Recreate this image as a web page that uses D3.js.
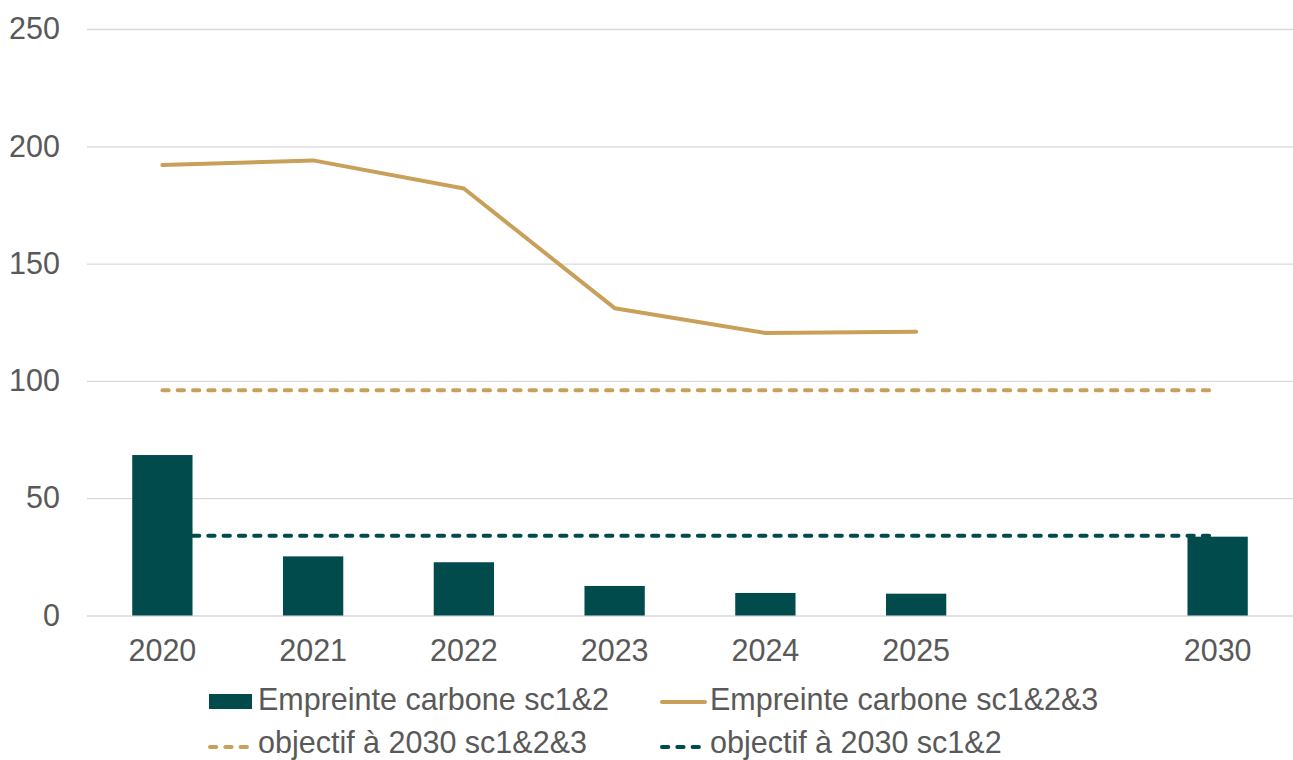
<!DOCTYPE html>
<html>
<head>
<meta charset="utf-8">
<script src="https://cdn.jsdelivr.net/npm/d3@7"></script>
<style>
  html, body { margin: 0; padding: 0; background: #fff; }
  svg { display: block; font-family: "Liberation Sans", Arial, sans-serif; }
</style>
</head>
<body>
<svg id="chart" width="1293" height="760"></svg>
<script>
// Categories (the blank slot keeps the gap between 2025 and 2030)
const categories = ["2020", "2021", "2022", "2023", "2024", "2025", "", "2030"];
// Carbon footprint, scopes 1 & 2 (bars)
const scope12 = [68.4, 25.2, 22.7, 12.6, 9.6, 9.3, null, 33.6];
// Carbon footprint, scopes 1, 2 & 3 (line)
const scope123 = [192, 194, 182, 131, 120.4, 121, null, null];
// 2030 targets (dashed lines)
const target123 = 96;
const target12 = 34;
const yTicks = [0, 50, 100, 150, 200, 250];

const legendItems = [
  { label: "Empreinte carbone sc1&2", kind: "bar", color: "#024B4D" },
  { label: "Empreinte carbone sc1&2&3", kind: "line", color: "#C8A05A" },
  { label: "objectif à 2030 sc1&2&3", kind: "dash", color: "#C8A05A" },
  { label: "objectif à 2030 sc1&2", kind: "dash", color: "#024B4D" }
];

(function () {
  const teal = "#024B4D", gold = "#C8A05A", grid = "#D9D9D9", text = "#595959";
  const fontSize = "30.5px";
  const svg = d3.select("#chart");
  const plotLeft = 87, plotRight = 1293, plotTop = 29, plotBottom = 615.5;

  const x = d3.scaleBand().domain(categories).range([plotLeft, plotRight])
    .paddingInner(0.6).paddingOuter(0.3);
  const y = d3.scaleLinear().domain([0, 250]).range([plotBottom, plotTop]);

  // Horizontal gridlines + y tick labels
  const yAxis = svg.append("g").attr("transform", `translate(${plotLeft},0)`)
    .call(d3.axisLeft(y).tickValues(yTicks).tickSize(-(plotRight - plotLeft)).tickPadding(27));
  yAxis.select(".domain").remove();
  yAxis.selectAll(".tick line").attr("stroke", grid).attr("stroke-width", 1.3);
  yAxis.selectAll(".tick text").attr("fill", text).style("font-size", fontSize);

  // x tick labels
  const xAxis = svg.append("g").attr("transform", `translate(0,${plotBottom})`)
    .call(d3.axisBottom(x).tickSize(0).tickPadding(24));
  xAxis.select(".domain").remove();
  xAxis.selectAll(".tick text").attr("fill", text).style("font-size", fontSize);

  const cx = c => x(c) + x.bandwidth() / 2;
  const first = categories[0], last = categories[categories.length - 1];

  // Target lines
  const dash = "6.3 9";
  svg.append("line")
    .attr("x1", cx(first)).attr("x2", cx(last) - 4)
    .attr("y1", y(target12)).attr("y2", y(target12))
    .attr("stroke", teal).attr("stroke-width", 4)
    .attr("stroke-dasharray", dash).attr("stroke-linecap", "round");
  svg.append("line")
    .attr("x1", cx(first)).attr("x2", cx(last) - 4)
    .attr("y1", y(target123)).attr("y2", y(target123))
    .attr("stroke", gold).attr("stroke-width", 4)
    .attr("stroke-dasharray", dash).attr("stroke-linecap", "round");

  // Bars
  svg.append("g").selectAll("rect")
    .data(categories.map((c, i) => ({ c, v: scope12[i] })).filter(d => d.v != null))
    .join("rect")
    .attr("x", d => x(d.c)).attr("width", x.bandwidth())
    .attr("y", d => y(d.v)).attr("height", d => y(0) - y(d.v))
    .attr("fill", teal);

  // Scope 1&2&3 line
  const lineData = categories.map((c, i) => ({ c, v: scope123[i] })).filter(d => d.v != null);
  svg.append("path")
    .datum(lineData)
    .attr("d", d3.line().x(d => cx(d.c)).y(d => y(d.v)))
    .attr("fill", "none").attr("stroke", gold).attr("stroke-width", 4)
    .attr("stroke-linecap", "round").attr("stroke-linejoin", "round");

  // Legend (two rows, two columns)
  const legPos = [
    { x: 209, y: 710 }, { x: 661, y: 710 },
    { x: 209, y: 753 }, { x: 661, y: 753 }
  ];
  const leg = svg.append("g");
  legendItems.forEach((item, i) => {
    const p = legPos[i];
    const g = leg.append("g").attr("transform", `translate(${p.x},${p.y})`);
    if (item.kind === "bar") {
      g.append("rect").attr("x", 0).attr("y", -16).attr("width", 43).attr("height", 15).attr("fill", item.color);
    } else if (item.kind === "line") {
      g.append("line").attr("x1", 1).attr("x2", 44).attr("y1", -8).attr("y2", -8)
        .attr("stroke", item.color).attr("stroke-width", 4).attr("stroke-linecap", "round");
    } else {
      g.append("line").attr("x1", 1).attr("x2", 40).attr("y1", -6).attr("y2", -6)
        .attr("stroke", item.color).attr("stroke-width", 4)
        .attr("stroke-dasharray", dash).attr("stroke-linecap", "round");
    }
    g.append("text").attr("x", 49).attr("y", 0).text(item.label)
      .attr("fill", text).style("font-size", fontSize);
  });
})();
</script>
</body>
</html>
